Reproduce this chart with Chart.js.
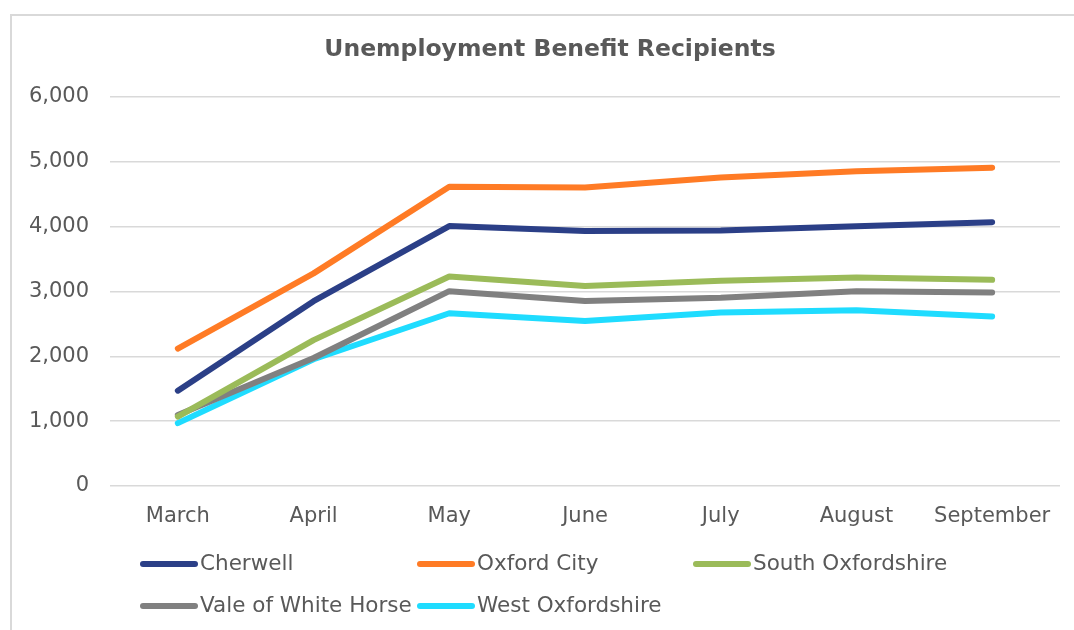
<!DOCTYPE html>
<html>
<head>
<meta charset="utf-8">
<script src="https://cdn.jsdelivr.net/npm/chart.js@4"></script>
<style>
  html, body { margin: 0; padding: 0; background: #fff; overflow: hidden; }
  canvas { display: block; }
</style>
</head>
<body>
<canvas id="line-chart" width="1074" height="630"></canvas>
<script>
const months = ['March', 'April', 'May', 'June', 'July', 'August', 'September'];

const cherwell = [1470, 2850, 4010, 3935, 3940, 4005, 4070];
const oxfordCity = [2120, 3280, 4615, 4605, 4760, 4855, 4910];
const southOxfordshire = [1070, 2250, 3230, 3085, 3165, 3215, 3180];
const valeOfWhiteHorse = [1095, 1975, 3005, 2855, 2905, 3005, 2985];
const westOxfordshire = [970, 1955, 2665, 2545, 2675, 2710, 2615];

const chartTitle = 'Unemployment Benefit Recipients';

const textColor = '#595959';
const fontFamily = '"DejaVu Sans", Verdana, sans-serif';

// Excel-style frame (left + top edge only visible in the crop)
const framePlugin = {
  id: 'frame',
  beforeDraw(chart) {
    const ctx = chart.ctx;
    ctx.save();
    ctx.strokeStyle = '#d9d9d9';
    ctx.lineWidth = 2;
    ctx.beginPath();
    ctx.moveTo(11, 630);
    ctx.lineTo(11, 15);
    ctx.lineTo(1074, 15);
    ctx.stroke();
    ctx.restore();
  }
};

// title is centred on the whole Excel frame, which runs past the right edge
const frameTitle = {
  id: 'frameTitle',
  afterDraw(chart) {
    const ctx = chart.ctx;
    ctx.save();
    ctx.font = 'bold 23.5px ' + fontFamily;
    ctx.fillStyle = textColor;
    ctx.textAlign = 'center';
    ctx.textBaseline = 'middle';
    ctx.fillText(chartTitle, 550, 50);
    ctx.restore();
  }
};

// legend laid out on a fixed grid like the Excel one
const gridLegend = {
  id: 'gridLegend',
  afterDraw(chart) {
    const ctx = chart.ctx;
    const cols = [141, 418, 694];
    const rows = [564, 606];
    ctx.save();
    ctx.font = '21.5px ' + fontFamily;
    ctx.textBaseline = 'middle';
    ctx.lineCap = 'round';
    chart.data.datasets.forEach((ds, i) => {
      const x = cols[i % 3];
      const y = rows[Math.floor(i / 3)];
      ctx.strokeStyle = ds.borderColor;
      ctx.lineWidth = 6;
      ctx.beginPath();
      ctx.moveTo(x + 2, y);
      ctx.lineTo(x + 54, y);
      ctx.stroke();
      ctx.fillStyle = textColor;
      ctx.fillText(ds.label, x + 59, y);
    });
    ctx.restore();
  }
};

function series(label, data, color) {
  return {
    label: label,
    data: data,
    borderColor: color,
    backgroundColor: color,
    borderWidth: 6,
    borderCapStyle: 'round',
    borderJoinStyle: 'round',
    pointRadius: 0,
    tension: 0
  };
}

new Chart(document.getElementById('line-chart'), {
  type: 'line',
  data: {
    labels: months,
    datasets: [
      series('Cherwell', cherwell, '#2b3f87'),
      series('Oxford City', oxfordCity, '#ff7b25'),
      series('South Oxfordshire', southOxfordshire, '#9bbb59'),
      series('Vale of White Horse', valeOfWhiteHorse, '#808080'),
      series('West Oxfordshire', westOxfordshire, '#1fdcff')
    ]
  },
  options: {
    responsive: false,
    animation: false,
    layout: { padding: { top: 97, right: 14, bottom: 84, left: 0 } },
    plugins: {
      legend: { display: false },
      tooltip: { enabled: false },
      title: { display: false }
    },
    scales: {
      x: {
        offset: true,
        grid: { display: false },
        border: { display: false },
        ticks: { color: textColor, font: { family: fontFamily, size: 21 }, padding: 10, maxRotation: 0 },
        afterFit(scale) { scale.height = 60; }
      },
      y: {
        min: 0,
        max: 6000,
        grid: { color: '#d9d9d9', lineWidth: 1.5, drawTicks: false },
        border: { display: false },
        ticks: {
          stepSize: 1000,
          color: textColor,
          font: { family: fontFamily, size: 21 },
          padding: 21,
          callback: v => v.toLocaleString('en-US')
        },
        afterFit(scale) { scale.width = 110; }
      }
    }
  },
  plugins: [framePlugin, frameTitle, gridLegend]
});
</script>
</body>
</html>
